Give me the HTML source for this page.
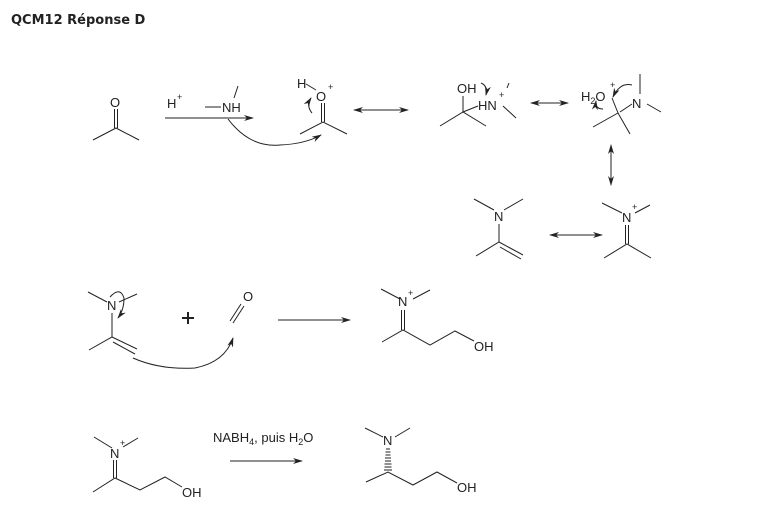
<!DOCTYPE html>
<html><head><meta charset="utf-8"><style>
html,body{margin:0;padding:0;background:#fff;}
svg{display:block;}
text{font-family:"Liberation Sans",sans-serif;fill:#222;}
</style></head><body>
<svg width="778" height="513" viewBox="0 0 778 513" xmlns="http://www.w3.org/2000/svg">
<defs>
<marker id="ah" markerWidth="10" markerHeight="8" refX="9" refY="4" orient="auto" markerUnits="userSpaceOnUse">
<path d="M0,1 L10,4 L0,7 L3,4 Z" fill="#222"/></marker>
<marker id="ahs" markerWidth="10" markerHeight="8" refX="1" refY="4" orient="auto" markerUnits="userSpaceOnUse">
<path d="M10,1 L0,4 L10,7 L7,4 Z" fill="#222"/></marker>
</defs>
<text x="11" y="24" font-size="13" font-weight="bold" style="font-family:'DejaVu Sans','Liberation Sans',sans-serif" fill="#111">QCM12 Réponse D</text>
<g stroke="#222" stroke-width="1" fill="none">
<polyline points="93,140 116,128 139,140"/>
<line x1="114.5" y1="109" x2="114.5" y2="128"/><line x1="117.5" y1="109" x2="117.5" y2="128"/>
<line x1="165" y1="118" x2="253" y2="118" marker-end="url(#ah)"/>
<line x1="205" y1="107" x2="221" y2="107"/>
<line x1="238" y1="86" x2="234" y2="98"/>
<path d="M228,119 Q250,148 280,145 Q305,144 321,135" marker-end="url(#ah)"/>
<polyline points="300,134 323,122 347,134"/>
<line x1="321.5" y1="103" x2="321.5" y2="122"/><line x1="324.5" y1="103" x2="324.5" y2="122"/>
<line x1="306" y1="84" x2="316" y2="90"/>
<path d="M312,113 Q306,106 311,98" marker-end="url(#ah)"/>
<line x1="354" y1="110" x2="408" y2="110" marker-start="url(#ahs)" marker-end="url(#ah)"/>
<polyline points="440,126 463,112 486,126"/>
<line x1="463" y1="112" x2="463" y2="96"/>
<line x1="463" y1="112" x2="478" y2="106"/>
<line x1="503" y1="106" x2="516" y2="118"/>
<line x1="509" y1="83" x2="507" y2="88"/>
<path d="M481,83 Q488,86 486,95" marker-end="url(#ah)"/>
<line x1="531" y1="103" x2="568" y2="103" marker-start="url(#ahs)" marker-end="url(#ah)"/>
<polyline points="593,127 618,113 630,134"/>
<line x1="612" y1="98" x2="618" y2="113"/>
<line x1="620" y1="112" x2="632" y2="104"/>
<line x1="640" y1="74" x2="640" y2="94"/>
<line x1="647" y1="104" x2="661" y2="112"/>
<path d="M632,85 Q620,82 613,97" marker-end="url(#ah)"/>
<path d="M603,109 Q595,109 596,101" marker-end="url(#ah)"/>
<line x1="611" y1="145" x2="611" y2="185" marker-start="url(#ahs)" marker-end="url(#ah)"/>
<line x1="474" y1="199" x2="494" y2="210"/><line x1="523" y1="199" x2="504" y2="210"/>
<line x1="499" y1="224" x2="499" y2="242"/>
<polyline points="476,256 499,242 523,255"/>
<line x1="500" y1="247" x2="521" y2="259"/>
<line x1="550" y1="235" x2="602" y2="235" marker-start="url(#ahs)" marker-end="url(#ah)"/>
<line x1="602" y1="203" x2="622" y2="213"/><line x1="650" y1="205" x2="635" y2="213"/>
<line x1="625.5" y1="225" x2="625.5" y2="244"/><line x1="628.5" y1="225" x2="628.5" y2="244"/>
<polyline points="604,258 627,244 651,258"/>
<line x1="88" y1="292" x2="107" y2="302"/><line x1="137" y1="294" x2="119" y2="302"/>
<line x1="112" y1="313" x2="112" y2="337"/>
<polyline points="89,350 112,337 137,349"/>
<line x1="113" y1="342" x2="135" y2="354"/>
<path d="M110,297 Q120,286 124,298 Q124,310 118,318" marker-end="url(#ah)"/>
<path d="M133,358 Q160,370 195,368 Q225,362 233,338" marker-end="url(#ah)"/>
<line x1="188" y1="312" x2="188" y2="324" stroke-width="2"/><line x1="182" y1="318" x2="194" y2="318" stroke-width="2"/>
<line x1="230" y1="321" x2="241" y2="304"/><line x1="233" y1="323" x2="244" y2="306"/>
<line x1="278" y1="320" x2="350" y2="320" marker-end="url(#ah)"/>
<line x1="381" y1="289" x2="400" y2="299"/><line x1="430" y1="290" x2="413" y2="299"/>
<line x1="401.5" y1="310" x2="401.5" y2="330"/><line x1="404.5" y1="310" x2="404.5" y2="330"/>
<polyline points="382,342 403,330 430,345 455,331 474,341"/>
<line x1="94" y1="437" x2="112" y2="448"/><line x1="138" y1="438" x2="123" y2="447"/>
<line x1="113.5" y1="460" x2="113.5" y2="478"/><line x1="116.5" y1="460" x2="116.5" y2="478"/>
<polyline points="93,492 115,478 140,490 165,477 182,487"/>
<line x1="230" y1="461" x2="302" y2="461" marker-end="url(#ah)"/>
<line x1="365" y1="428" x2="383" y2="437"/><line x1="410" y1="428" x2="395" y2="437"/>
<polyline points="366,482 388,472 413,485 437,472 457,483"/>
</g>
<g stroke="#222" stroke-width="1">
<line x1="386" y1="449" x2="390" y2="449"/><line x1="385.5" y1="452" x2="390.5" y2="452"/>
<line x1="385.5" y1="455" x2="390.5" y2="455"/><line x1="385" y1="458" x2="391" y2="458"/>
<line x1="385" y1="461" x2="391" y2="461"/><line x1="384.5" y1="464" x2="391.5" y2="464"/>
<line x1="384.5" y1="467" x2="391.5" y2="467"/><line x1="384" y1="470" x2="392" y2="470"/>
</g>
<g font-size="13">
<text x="110" y="107">O</text>
<text x="167" y="108">H</text><text x="177" y="100" font-size="9">+</text>
<text x="222" y="112">NH</text>
<text x="297" y="88">H</text>
<text x="316" y="101">O</text><text x="328" y="90" font-size="9">+</text>
<text x="457" y="93">OH</text>
<text x="478" y="110">HN</text><text x="499" y="98" font-size="9">+</text>
<text x="581" y="101">H<tspan font-size="9" dy="3">2</tspan><tspan dy="-3">O</tspan></text><text x="610" y="88" font-size="9">+</text>
<text x="632" y="108">N</text>
<text x="494" y="221">N</text>
<text x="622" y="222">N</text><text x="632" y="210" font-size="9">+</text>
<text x="107" y="310">N</text>
<text x="243" y="301">O</text>
<text x="398" y="306">N</text><text x="408" y="296" font-size="9">+</text>
<text x="474" y="351">OH</text>
<text x="110" y="458">N</text><text x="120" y="446" font-size="9">+</text>
<text x="182" y="497">OH</text>
<text x="213" y="442">NABH<tspan font-size="9" dy="3">4</tspan><tspan dy="-3">, puis H</tspan><tspan font-size="9" dy="3">2</tspan><tspan dy="-3">O</tspan></text>
<text x="383" y="445">N</text>
<text x="457" y="492">OH</text>
</g>
</svg>
</body></html>
